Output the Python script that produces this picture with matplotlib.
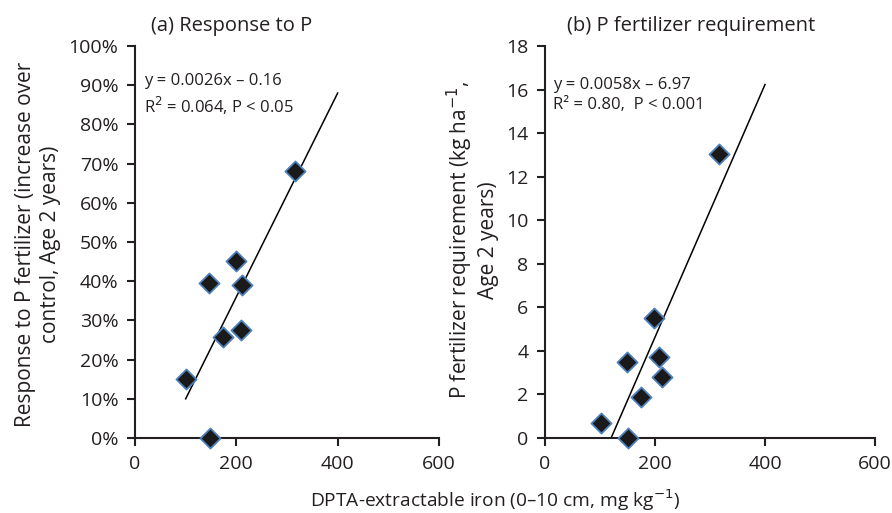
import matplotlib.pyplot as plt
from matplotlib.ticker import PercentFormatter

plt.rcParams['font.family'] = ['Open Sans', 'DejaVu Sans']

# DTPA iron vs response to P (panel a)
iron_a = [101, 146, 199, 211, 209, 174, 149, 315]
resp_a = [0.15, 0.396, 0.452, 0.39, 0.276, 0.258, 0.0, 0.68]

# DTPA iron vs P requirement (panel b)
iron_b = [102, 149, 199, 208, 212, 175, 151, 316]
req_b = [0.7, 3.5, 5.5, 3.7, 2.8, 1.9, 0.0, 13.05]

# fitted lines
fit_a = (0.0026, -0.16, 100, 400)
fit_b = (0.058, -6.97, 120, 400)

W, H = 892, 513
fig = plt.figure(figsize=(W / 100, H / 100), dpi=100)

def box(l, r, t, b):
    return [l / W, (H - b) / H, (r - l) / W, (b - t) / H]

ax1 = fig.add_axes(box(135, 439, 46, 438))
ax2 = fig.add_axes(box(545, 875, 46, 438))

mk = dict(marker='D', s=105, color='#1a1a1a', edgecolors='#4f81bd',
          linewidths=1.3, zorder=3, clip_on=False)

tc = '#231f20'
for ax, x, y, fit in [(ax1, iron_a, resp_a, fit_a), (ax2, iron_b, req_b, fit_b)]:
    m, c, x0, x1 = fit
    ax.plot([x0, x1], [m * x0 + c, m * x1 + c], color='black', lw=1.1)
    ax.scatter(x, y, **mk)
    ax.set_xlim(0, 600)
    ax.set_xticks([0, 200, 400, 600])
    for s in ['top', 'right']:
        ax.spines[s].set_visible(False)
    for s in ['left', 'bottom']:
        ax.spines[s].set_linewidth(1.5)
        ax.spines[s].set_color(tc)
    ax.tick_params(width=1.5, length=6, labelsize=14, pad=6, colors=tc)

ax1.set_ylim(0, 1.0)
ax1.set_yticks([i / 10 for i in range(11)])
ax1.yaxis.set_major_formatter(PercentFormatter(1.0, decimals=0))
ax2.set_ylim(0, 18)
ax2.set_yticks(range(0, 19, 2))

fig.text(232 / W, 1 - 26 / H, '(a) Response to P', ha='center', va='center', fontsize=14.5, color=tc)
fig.text(691 / W, 1 - 26 / H, '(b) P fertilizer requirement', ha='center', va='center', fontsize=14.5, color=tc)

fig.text(144 / W, 1 - 95 / H, 'y = 0.0026x \u2013 0.16\nR$^2$ = 0.064, P < 0.05',
         ha='left', va='center', fontsize=12, color=tc, linespacing=1.3)
fig.text(553 / W, 1 - 95 / H, 'y = 0.0058x \u2013 6.97\nR\u00b2 = 0.80,  P < 0.001',
         ha='left', va='center', fontsize=12, color=tc, linespacing=1.3)

fig.text(38 / W, 1 - 244 / H, 'Response to P fertilizer (increase over\ncontrol, Age 2 years)',
         rotation=90, ha='center', va='center', fontsize=15, color=tc, linespacing=1.25)
fig.text(472 / W, 1 - 240 / H, 'P fertilizer requirement (kg ha$^{-1}$,\nAge 2 years)',
         rotation=90, ha='center', va='center', fontsize=15, color=tc, linespacing=1.2)

fig.text(495 / W, 1 - 500 / H, 'DPTA-extractable iron (0\u201310 cm, mg kg$^{-1}$)',
         ha='center', va='center', fontsize=13.8, color=tc)

fig.savefig('out.png', dpi=100)
